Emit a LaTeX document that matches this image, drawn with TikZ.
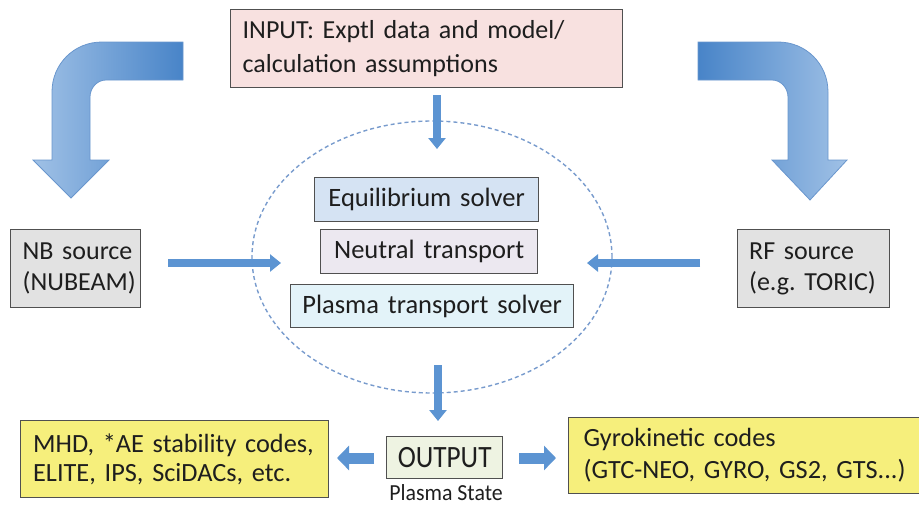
\documentclass[tikz,border=0pt]{standalone}
\usepackage{fontspec}
\setmainfont{Carlito}
\usetikzlibrary{arrows.meta,shapes.geometric}
\definecolor{boxline}{RGB}{80,80,80}
\definecolor{txt}{RGB}{30,30,30}
\definecolor{pinkfill}{RGB}{248,225,224}
\definecolor{eqfill}{RGB}{213,227,243}
\definecolor{neufill}{RGB}{236,232,240}
\definecolor{plfill}{RGB}{227,243,249}
\definecolor{grayfill}{RGB}{226,226,226}
\definecolor{yelfill}{RGB}{246,239,124}
\definecolor{outfill}{RGB}{238,243,226}
\definecolor{arrdark}{RGB}{72,132,200}
\definecolor{arrlight}{RGB}{160,193,230}
\definecolor{arredge}{RGB}{105,150,205}
\definecolor{arrmid}{RGB}{92,148,210}
\definecolor{ellcol}{RGB}{120,155,205}
\begin{document}
\begin{tikzpicture}[x=1pt,y=-1pt,
  box/.style={draw=boxline, line width=1.3pt, text=txt, inner xsep=12pt, inner ysep=0pt,
    anchor=north west, align=left, font=\fontsize{26}{34}\selectfont},
  cbox/.style={box, align=center, inner xsep=3pt, font=\fontsize{26.5}{30}\selectfont},
  smallarrow/.style={draw=arrmid, line width=8pt, -{Triangle[length=11pt,width=17pt]}},
  fatarrow/.style={draw=arrmid, line width=11pt, -{Triangle[length=12pt,width=24pt]}},
  bigarrow/.style={draw=arredge, line width=0.8pt}
]
\useasboundingbox (0,0) rectangle (919,504);

% big curved arrows
\shade[bigarrow, left color=arrlight, right color=arrdark]
  (183,42) -- (102,42) .. controls (74,42) and (52,64) .. (52,92)
  -- (52,160) -- (33,160) -- (71,198) -- (109,160) -- (90,160)
  -- (90,97) .. controls (90,88) and (97,80) .. (106,80) -- (183,80) -- cycle;
\shade[bigarrow, left color=arrdark, right color=arrlight]
  (698,42) -- (778,42) .. controls (806,42) and (828,64) .. (828,92)
  -- (828,160) -- (847,160) -- (810,200) -- (772,160) -- (788,160)
  -- (788,97) .. controls (788,88) and (781,80) .. (772,80) -- (698,80) -- cycle;

% dashed ellipse
\node[ellipse, draw=ellcol, line width=1.4pt, dash pattern=on 4pt off 3pt,
  minimum width=360pt, minimum height=272pt, inner sep=0pt] (core) at (432,257) {};

% boxes
\node[box, fill=pinkfill, text width=368pt, minimum height=78pt] (in) at (230,9)
  {\mbox{INPUT: Exptl data and model/}\\\mbox{calculation assumptions}};
\node[cbox, fill=eqfill, text width=218pt, minimum height=44pt] (eq) at (314,177)
  {\mbox{Equilibrium solver}};
\node[cbox, fill=neufill, text width=211pt, minimum height=44pt] (neu) at (320,229)
  {\mbox{Neutral transport}};
\node[cbox, fill=plfill, text width=277pt, minimum height=43pt] (pl) at (290,284)
  {\mbox{Plasma transport solver}};
\node[box, fill=grayfill, text width=106pt, minimum height=78pt,
  font=\fontsize{26}{31}\selectfont] (nb) at (10,229)
  {\mbox{NB source}\\\mbox{(NUBEAM)}};
\node[box, fill=grayfill, text width=129pt, minimum height=78pt, inner xsep=11.5pt,
  font=\fontsize{26}{31}\selectfont] (rf) at (737,229)
  {\mbox{RF source}\\\mbox{(e.g.\ TORIC)}};
\node[box, fill=yelfill, text width=283pt, minimum height=77pt, inner xsep=12.5pt,
  font=\fontsize{26.3}{29}\selectfont] (mhd) at (20,420)
  {\mbox{MHD, *AE stability codes,}\\\mbox{ELITE, IPS, SciDACs, etc.}};
\node[box, fill=yelfill, text width=340pt, minimum height=76pt, inner xsep=15pt,
  font=\fontsize{26.3}{32}\selectfont] (gyro) at (568,417)
  {\mbox{Gyrokinetic codes}\\\mbox{(GTC-NEO, GYRO, GS2, GTS...)}};
\node[cbox, fill=outfill, text width=110pt, minimum height=42pt,
  font=\fontsize{31}{32}\selectfont] (out) at (386,436)
  {\scalebox{0.88}[1]{OUTPUT}};
\node[text=txt, font=\fontsize{23}{24}\selectfont, anchor=base, inner sep=0pt]
  (ps) at (446,500) {\scalebox{0.95}[1]{Plasma State}};

% connector end points
\coordinate (inA) at (437,95);
\coordinate (inB) at (437,149);
\coordinate (nbA) at (168,263);
\coordinate (nbB) at (281,263);
\coordinate (rfA) at (700,263);
\coordinate (rfB) at (587,263);
\coordinate (coA) at (438,365);
\coordinate (coB) at (438,421);
\coordinate (olA) at (374,458);
\coordinate (olB) at (337,458);
\coordinate (orA) at (519,458);
\coordinate (orB) at (556,458);

\draw[smallarrow] (inA) -- (inB);
\draw[smallarrow] (nbA) -- (nbB);
\draw[smallarrow] (rfA) -- (rfB);
\draw[smallarrow] (coA) -- (coB);
\draw[fatarrow] (olA) -- (olB);
\draw[fatarrow] (orA) -- (orB);
\end{tikzpicture}
\end{document}
